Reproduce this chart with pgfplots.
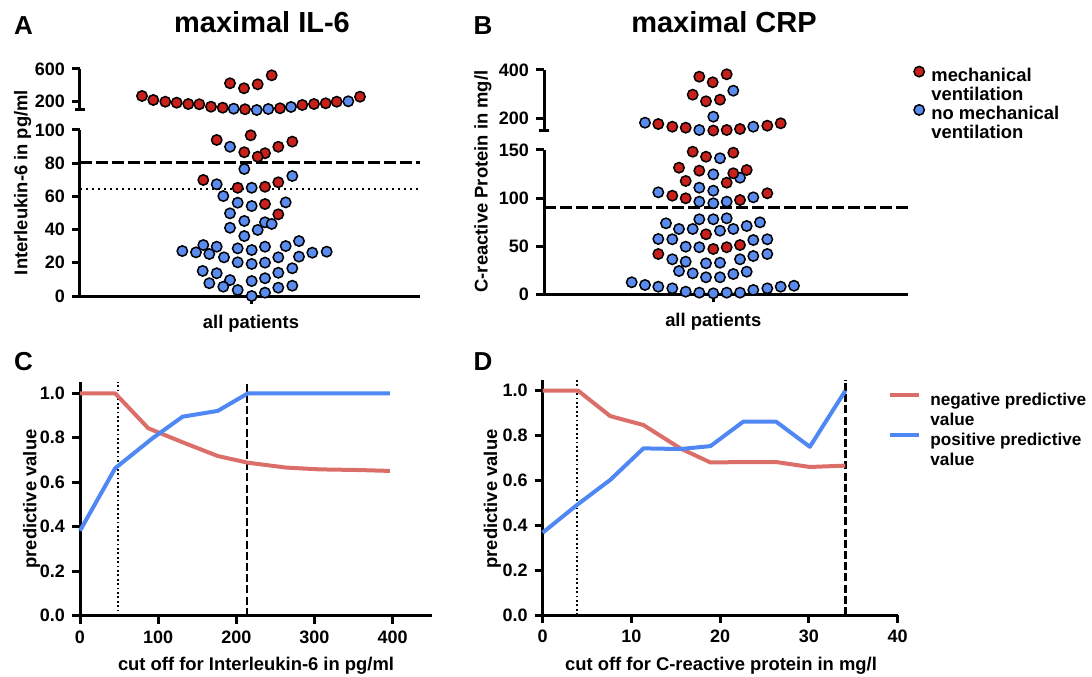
\documentclass[border=0pt]{standalone}
\usepackage{fontspec}
\setmainfont{Liberation Sans}
\usepackage{pgfplots}
\pgfplotsset{compat=1.18}
\definecolor{MVred}{HTML}{C8201B}
\definecolor{NoMVblue}{HTML}{5A8CF0}
\definecolor{NPVred}{HTML}{DC6E69}
\definecolor{PPVblue}{HTML}{4F87F5}
\newcommand{\lab}{\fontsize{9.2}{11}\selectfont\bfseries}
\newcommand{\tck}{\fontsize{9}{10}\selectfont\bfseries}

\pgfplotsset{
  prism/.style={
    scale only axis, clip=false, anchor=south west,
    axis lines=left,
    axis line style={-, line width=1.5pt},
    tick style={black, line width=1.5pt},
    tick align=outside, major tick length=4pt,
    tick label style={font=\tck},
    /pgf/number format/assume math mode=true,
  },
  mv/.style={only marks, mark=*, mark size=2.6pt,
    mark options={fill=MVred, draw=black, line width=0.75pt}},
  nomv/.style={only marks, mark=*, mark size=2.6pt,
    mark options={fill=NoMVblue, draw=black, line width=0.75pt}},
  cutdash/.style={black, line width=1.5pt, dash pattern=on 6pt off 2pt},
  cutdot/.style={black, line width=1.2pt, dash pattern=on 1.2pt off 1.8pt},
  pvline/.style={line width=2pt, line join=round},
}

\begin{document}
\begin{tikzpicture}
\path[use as bounding box] (0pt,0pt) rectangle (546pt,338pt);

% ---------- A: maximal IL-6, lower segment
\begin{axis}[prism, at={(40pt,190pt)}, width=170pt, height=83pt,
  xmin=-171, xmax=169, ymin=0, ymax=100,
  ytick={0,20,...,100}, xtick={0}, xticklabels={all patients},
  xticklabel style={font=\lab, yshift=-2pt}]
\addplot[cutdash] coordinates {(-171,80.3) (169,80.3)};
\addplot[cutdot] coordinates {(-171,64.3) (169,64.3)};
\addplot[nomv] coordinates {
 (-21,89.9) (-6.7,76.5) (-34.3,67.3) (0.7,65.2) (41.3,72.3) (-27.7,60.2)
 (-13.3,56.2) (0.7,54.2) (34.7,56.4) (-21,49.8) (-6.7,45.2) (14,44.4)
 (20.7,43.4) (-21,41.1) (6.7,39.8) (-6.7,36.1)
 (-68.7,27.1) (-55,26.3) (-47.7,30.7) (-41.7,25.3) (-34.3,29.7) (-27,23.3)
 (-13.3,28.7) (0.7,27.7) (14,29.7) (27.3,23.3) (34.7,30.1) (48,33.1)
 (48,23.7) (61.3,26.1) (75.7,26.7) (-13.3,20.3) (0.7,19.3) (14,20.1)
 (41.3,16.7) (27.3,14.0) (-48.3,15.1) (-34.3,13.7) (-41.7,7.7) (-21,9.6)
 (-27.7,5.6) (-13.3,3.6) (0.7,9.0) (14,10.7) (27.3,5.0) (41.3,6.2)
 (0.7,0) (14,2.0)};
\addplot[mv] coordinates {
 (-34.3,94.0) (-0.3,96.8) (-6.7,86.6) (14,86.0) (6.7,83.9) (27.3,89.9)
 (41.3,93.0) (-47.7,69.9) (27.3,68.5) (-13.3,65.2) (14,65.8) (14,55.4)
 (27.3,49.2)};
\end{axis}

% ---------- A: upper segment
\begin{axis}[prism, axis x line=none, at={(40pt,283pt)}, width=170pt, height=20.5pt,
  xmin=-171, xmax=169,
  ymin=100, ymax=600, ytick={200,600}, xtick=\empty,
  extra y ticks={100}, extra y tick labels={},
  extra y tick style={tick align=center, major tick length=5pt}]
\addplot[mv] coordinates {
 (-21,426) (-7,365) (6.7,413) (20.7,523)
 (-109,271) (-97.7,222) (-85.7,201) (-74.3,189) (-62.7,173) (-51.7,170)
 (-40,140) (-28.3,128) (-6,109) (29,121) (51.3,161) (63,173) (74.7,182)
 (85.7,201) (109,262)};
\addplot[nomv] coordinates {
 (-17.3,116) (5.7,100) (17.3,112) (40,137) (97.3,206)};
\end{axis}

% ---------- B: maximal CRP, lower segment
\begin{axis}[prism, at={(272pt,190.85pt)}, width=182pt, height=72.15pt,
  xmin=-169.3, xmax=194.7, ymin=0, ymax=150,
  ytick={0,50,100,150}, xtick={0}, xticklabels={all patients},
  xticklabel style={font=\lab, yshift=-2pt}]
\addplot[cutdash] coordinates {(-169.3,90) (194.7,90)};
\addplot[nomv] coordinates {
 (6.7,141.4) (0,124.7) (26.7,121.2) (-14,110.8) (0,107.7) (-55,106.0)
 (-14,96.3) (0,94.6) (13.4,96.3) (40,100.8)
 (-14,78.0) (0,78.0) (13.4,79.0) (-47.3,73.8) (-34.3,67.9) (-20.6,67.9)
 (6.7,66.1) (20,67.9) (33.4,71.0) (46.7,74.8) (-55,57.5) (-41,57.2)
 (-27.6,49.5) (-14,48.9) (40,56.4) (54,57.2) (-41,36.4) (-27.6,33.9)
 (-7.3,32.2) (6.7,32.8) (26.7,36.4) (40,39.8) (54,41.9) (-34.3,24.2)
 (-20.6,21.8) (-7.3,17.7) (6.7,17.7) (20,21.1) (33.4,23.5)
 (-81.6,12.5) (-68.3,9.7) (-55,7.9) (-41,6.2) (-27.6,2.7) (-14,1.7)
 (0,1.0) (13.4,1.7) (26.7,1.7) (40,4.5) (54,6.2) (67.4,7.9) (80.7,8.9)};
\addplot[mv] coordinates {
 (-20.6,148.2) (-7.3,143.0) (20,147.2) (-34.3,131.6) (-14,128.5)
 (20,125.8) (33.4,129.2) (13.4,116.0) (-27.6,117.8) (-41,102.5)
 (-27.6,99.8) (26.7,98.0) (54,105.0) (-7.3,62.4) (0,47.1) (13.4,48.9)
 (26.7,51.2) (-55,41.9)};
\end{axis}

% ---------- B: upper segment (carries the A/B legend)
\begin{axis}[prism, axis x line=none, at={(272pt,272.85pt)}, width=182pt, height=30.15pt,
  xmin=-169.3, xmax=194.7,
  ymin=150, ymax=400, ytick={200,400}, xtick=\empty,
  extra y ticks={150}, extra y tick labels={},
  extra y tick style={tick align=center, major tick length=5pt},
  legend image code/.code={\draw[#1] plot coordinates {(2.9pt,2.6pt)};},
  legend cell align=left,
  legend style={at={(1.0137,1.066)}, anchor=north west, draw=none, fill=none,
    inner sep=0pt, row sep=0pt, column sep=3.5pt, font=\lab,
    nodes={inner sep=0pt, text height=7pt, text depth=2.3pt}}]
\addplot[mv] coordinates {
 (-14,372.2) (-0.6,349.0) (13.4,382.2) (-20.6,297.6) (-7.3,270.2)
 (6.7,276.9) (-55,176.1) (-41,164.9) (-27.6,160.8) (0,149) (13.4,151.2)
 (26.7,155.4) (54,169.1) (67.4,179.0)};
\addlegendentry{mechanical}
\addlegendimage{empty legend}
\addlegendentry{ventilation}
\addplot[nomv] coordinates {
 (20,314.2) (0,206.4) (-68.3,181.5) (-14,151.2) (40,164.9)};
\addlegendentry{no mechanical}
\addlegendimage{empty legend}
\addlegendentry{ventilation}
\end{axis}

% ---------- C: predictive values for IL-6 cut offs
\begin{axis}[prism, at={(40pt,30.15pt)}, width=175.85pt, height=116.75pt,
  xmin=0, xmax=450, ymin=0, ymax=1.05,
  xtick={0,100,...,400}, ytick={0,0.2,...,1.0},
  yticklabel style={/pgf/number format/.cd, fixed, fixed zerofill, precision=1}]
\addplot[cutdot, line width=1pt, dash pattern=on 0.9pt off 1.3pt, forget plot]
  coordinates {(48.8,0) (48.8,1.05)};
\addplot[black, line width=1.2pt, dash pattern=on 4pt off 1.6pt, forget plot]
  coordinates {(213.5,0) (213.5,1.05)};
\addplot[pvline, NPVred] coordinates {
 (0,1.0) (45,1.0) (87.3,0.843) (132.6,0.778) (176.3,0.718) (214.8,0.688)
 (264,0.666) (306.7,0.658) (358,0.655) (396.6,0.651)};
\addplot[pvline, PPVblue] coordinates {
 (0,0.382) (45,0.663) (92.8,0.798) (131.3,0.895) (176.3,0.921)
 (214.8,1.0) (396.6,1.0)};
\end{axis}

% ---------- D: predictive values for CRP cut offs (carries the C/D legend)
\begin{axis}[prism, at={(271.35pt,30.5pt)}, width=177.5pt, height=117.75pt,
  xmin=0, xmax=40, ymin=0, ymax=1.05,
  xtick={0,10,...,40}, ytick={0,0.2,...,1.0},
  yticklabel style={/pgf/number format/.cd, fixed, fixed zerofill, precision=1},
  legend image code/.code={\draw[#1] (0pt,2.8pt) -- (14.5pt,2.8pt);},
  legend cell align=left,
  legend style={at={(0.9727,0.955)}, anchor=north west, draw=none, fill=none,
    inner sep=0pt, row sep=0pt, column sep=4.5pt,
    font=\fontsize{8.6}{10}\selectfont\bfseries,
    nodes={inner sep=0pt, text height=7.5pt, text depth=2.5pt}}]
\addplot[cutdot, line width=1pt, dash pattern=on 0.9pt off 1.3pt, forget plot]
  coordinates {(3.9,0) (3.9,1.05)};
\addplot[black, line width=1.2pt, dash pattern=on 4pt off 1.6pt, forget plot]
  coordinates {(34.1,0) (34.1,1.05)};
\addplot[pvline, NPVred] coordinates {
 (0,1.0) (4.0,1.0) (7.6,0.887) (11.35,0.847) (15.5,0.743) (18.9,0.68)
 (22.6,0.682) (26.3,0.682) (30.1,0.66) (34.1,0.666)};
\addlegendentry{negative predictive}
\addlegendimage{empty legend}
\addlegendentry{value}
\addplot[pvline, PPVblue] coordinates {
 (0,0.367) (4.0,0.495) (7.6,0.602) (11.35,0.743) (15.5,0.74) (18.9,0.753)
 (22.6,0.862) (26.3,0.862) (30.1,0.75) (34.1,1.0)};
\addlegendentry{positive predictive}
\addlegendimage{empty legend}
\addlegendentry{value}
\end{axis}

% ---------- titles, panel letters and axis labels
\begin{scope}[every node/.style={inner sep=0pt}]
\node[anchor=base, font=\fontsize{13}{15}\selectfont\bfseries] at (11.75pt,320.5pt) {A};
\node[anchor=base, font=\fontsize{13}{15}\selectfont\bfseries] at (241.5pt,320.5pt) {B};
\node[anchor=base, font=\fontsize{13}{15}\selectfont\bfseries] at (11.75pt,153pt) {C};
\node[anchor=base, font=\fontsize{13}{15}\selectfont\bfseries] at (241.5pt,153pt) {D};
\node[anchor=base, font=\fontsize{14.5}{16}\selectfont\bfseries] at (131pt,321.5pt) {maximal IL-6};
\node[anchor=base, font=\fontsize{14.5}{16}\selectfont\bfseries] at (362pt,321.5pt) {maximal CRP};
\node[rotate=90, font=\lab] at (11.35pt,246.75pt) {Interleukin-6 in pg/ml};
\node[rotate=90, font=\lab] at (241.5pt,247.25pt) {C-reactive Protein in mg/l};
\node[rotate=90, font=\lab] at (15.85pt,88.5pt) {predictive value};
\node[rotate=90, font=\lab] at (246.2pt,88.5pt) {predictive value};
\node[anchor=base, font=\lab] at (128pt,2.9pt) {cut off for Interleukin-6 in pg/ml};
\node[anchor=base, font=\lab] at (360.5pt,3pt) {cut off for C-reactive protein in mg/l};
\end{scope}
\end{tikzpicture}
\end{document}
